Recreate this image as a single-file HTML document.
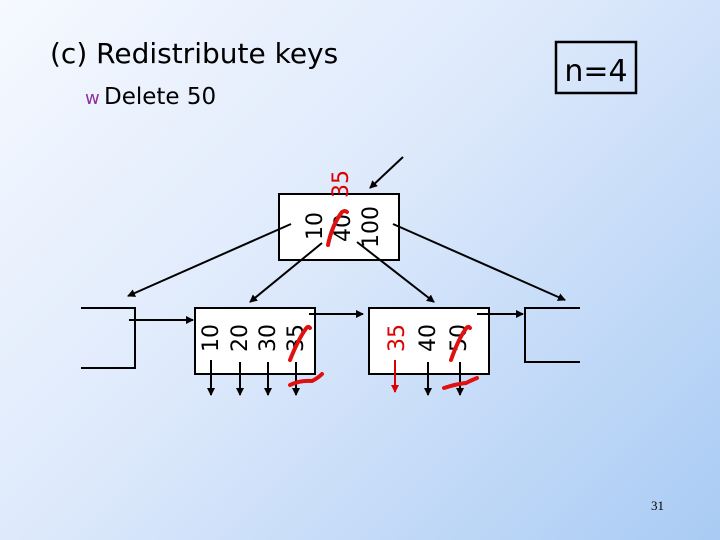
<!DOCTYPE html>
<html><head><style>
body{margin:0;width:720px;height:540px;overflow:hidden;background:linear-gradient(135deg,#f6f9ff 0%,#dde9fb 45%,#a9cbf4 100%);font-family:"DejaVu Sans","Liberation Sans",sans-serif;}
svg{position:absolute;left:0;top:0}
</style></head><body>
<svg width="720" height="540" viewBox="0 0 720 540">
<defs><marker id="a" markerWidth="8" markerHeight="8" refX="7" refY="4" orient="auto" markerUnits="userSpaceOnUse"><path d="M0,0 L8,4 L0,8z" fill="#000"/></marker>
<marker id="r" markerWidth="8" markerHeight="8" refX="7" refY="4" orient="auto" markerUnits="userSpaceOnUse"><path d="M0,0 L8,4 L0,8z" fill="#d00"/></marker></defs>
<text x="50" y="63" font-size="28" font-family="DejaVu Sans">(c) Redistribute keys</text>
<text x="85" y="104" font-size="18" fill="#9030a0">w</text>
<text x="104" y="104" font-size="23">Delete 50</text>
<rect x="556" y="42" width="80" height="51" fill="none" stroke="#000" stroke-width="2.5"/>
<text x="596" y="81" font-size="30" text-anchor="middle">n=4</text>
<text x="651" y="510" font-size="13" font-family="Liberation Serif">31</text>
<g stroke="#000" stroke-width="2">
<rect x="279" y="194" width="120" height="66" fill="#fff"/>
<rect x="195" y="308" width="120" height="66" fill="#fff"/>
<rect x="369" y="308" width="120" height="66" fill="#fff"/>
<polyline points="81,308 135,308 135,368 81,368" fill="none"/>
<polyline points="580,308 525,308 525,362 580,362" fill="none"/>
<line x1="403" y1="157" x2="370" y2="188" marker-end="url(#a)"/>
<line x1="291" y1="224" x2="128" y2="296" marker-end="url(#a)"/>
<line x1="322" y1="243" x2="250" y2="302" marker-end="url(#a)"/>
<line x1="357" y1="242" x2="434" y2="302" marker-end="url(#a)"/>
<line x1="393" y1="224" x2="565" y2="300" marker-end="url(#a)"/>
<line x1="129" y1="320" x2="193" y2="320" marker-end="url(#a)"/>
<line x1="309" y1="314" x2="363" y2="314" marker-end="url(#a)"/>
<line x1="477" y1="314" x2="523" y2="314" marker-end="url(#a)"/>
<line x1="211" y1="360" x2="211" y2="395" marker-end="url(#a)"/>
<line x1="240" y1="362" x2="240" y2="395" marker-end="url(#a)"/>
<line x1="268" y1="362" x2="268" y2="395" marker-end="url(#a)"/>
<line x1="296" y1="362" x2="296" y2="395" marker-end="url(#a)"/>
<line x1="428" y1="362" x2="428" y2="395" marker-end="url(#a)"/>
<line x1="460" y1="362" x2="460" y2="395" marker-end="url(#a)"/>
</g>
<line x1="395" y1="360" x2="395" y2="392" stroke="#d00" stroke-width="2" marker-end="url(#r)"/>
<g font-size="22" font-family="DejaVu Sans">
<text transform="translate(322,240) rotate(-90)">10</text>
<text transform="translate(350,242) rotate(-90)">40</text>
<text transform="translate(378,248) rotate(-90)">100</text>
<text transform="translate(348,198) rotate(-90)" fill="#d00">35</text>
<text transform="translate(218,352) rotate(-90)">10</text>
<text transform="translate(247,352) rotate(-90)">20</text>
<text transform="translate(275,352) rotate(-90)">30</text>
<text transform="translate(303,352) rotate(-90)">35</text>
<text transform="translate(404,352) rotate(-90)" fill="#d00">35</text>
<text transform="translate(435,352) rotate(-90)">40</text>
<text transform="translate(466,352) rotate(-90)">50</text>
</g>
<g stroke="#e01010" stroke-width="4" fill="none" stroke-linecap="round">
<path d="M328,245 Q332,225 342,212 Q345,210 347,212"/>
<path d="M290,360 Q298,340 305,330 Q308,325 310,328"/>
<path d="M290,385 Q300,380 312,381 Q318,378 322,374"/>
<path d="M451,360 Q458,340 465,330 Q468,325 470,328"/>
<path d="M444,388 Q456,384 466,383 Q472,380 477,378"/>
</g>
</svg>
</body></html>
